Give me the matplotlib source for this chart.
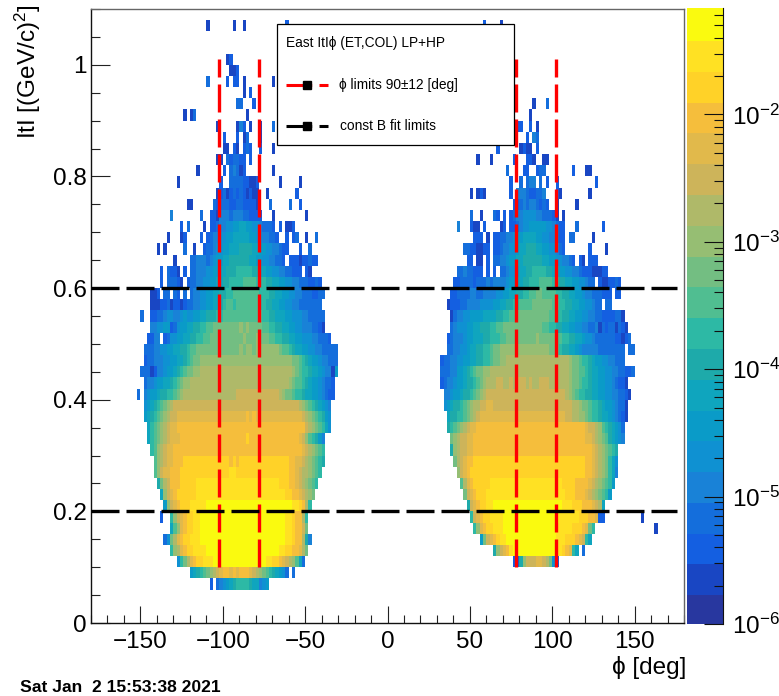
import numpy as np
import matplotlib
matplotlib.use("Agg")
import matplotlib.pyplot as plt
from matplotlib.colors import ListedColormap, LogNorm
from matplotlib.lines import Line2D
from matplotlib.patches import Rectangle
from matplotlib.ticker import MultipleLocator, LogLocator, FixedLocator, FixedFormatter, NullFormatter

plt.rcParams['font.family'] = ['Liberation Sans', 'DejaVu Sans']
plt.rcParams['mathtext.fontset'] = 'custom'
plt.rcParams['mathtext.rm'] = 'Liberation Sans'
plt.rcParams['mathtext.default'] = 'regular'

W, H = 779, 696

# palette bands, bottom (10^-6) to top
band_colors = ['#28379f', '#1946c3', '#145fe1', '#146edc', '#1982d7', '#0f91d2', '#0a9bc8', '#0fa5be',
               '#1eaaaa', '#2db9a5', '#50be91', '#73be82', '#96be73', '#afb969', '#cdb45a', '#e1b94b',
               '#f5be3c', '#ffd228', '#ffe123', '#fafa0f']

# each entry is one t bin, from 1.06-1.08 downwards to 0.06-0.08: "phi_bin:level-characters"
# a group with no colon carries on from the previous group
left_rows = [
    "35:1 43:1 46:1 59:2",
    "",
    "",
    "41:12",
    "42:112",
    "35:3 41:2 43:22 46:1 55:1",
    "46:1 48:2",
    "44:33 49:2",
    "28:1 30:13 47:1",
    "38:1 44:142 48:1 51:1 55:3",
    "40:2 44:2 46:13 51:1",
    "40:11 43:21 46:232 51:2 55:1",
    "38:11 41:32332 46:2 48:2",
    "32:1 40:2 42:343 45:12 55:1",
    "26:1 39:2 42:333322112 57:1 63:1",
    "38:1231232321211 53:1 62:2",
    "29:11 37:32333223322221 54:3 60:3 63:2",
    "24:4 33:3 36:221 39:444344433222 51:2 55:1 65:1",
    "27:2 29:3 34:1 36:22344556677665543332 57:2 59:112",
    "23:1 27:12 33:2 35:2344556677777665544332 59:2 61:23 65:1 68:3",
    "20:1 22:1 28:3 31:1 34:23345566777888877665544322 63:2 66:3",
    "25:1 30:33444345667788888877665544332.222122322",
    "21:2 23:3221 28:2 30:3344455667788899999887766554433222.21",
    "21:2.33321.2 30:3344556677889999aaaa999887766554433322 32",
    "18:112.33.32.3 30:3445566778899aaaaaaaa99988776655443332233",
    "18:11122312212334455667789aa9aaaaaaa9988776655443333333",
    "15:3 18:2233455445655667788899 aaaaaaaaaaaa 998877766555443 3333",
    "18:44556623566778899aabbbbbbbbcbcbbbbaa99887766554443321",
    "17:2244.235566778899aabbbbbbbbbbcbbbcbbbaa9988776655544333 2",
    "16:33344556 6778 89aabb bbbbbbbbbbbcbccbccccccc baa98 7766554433333",
    "16:23344455667 789abb cccccccccc cccccccccc cccccccc bba9 8766544333",
    "15:33312 4456 6789ab bcc dddddddddd dddddddddd dddddddd cba99 8776544 16",
    "16:34456 67789a bccd dddddddddd dddddddddd ddddddddd cbaa9 876654332",
    "14:3 16:456678 899abcd ddddddddddddddd eeeeeeeeeeeee dcbba 998776 654322",
    "16:56789 abcde eee eeeeeeeeee eeeeeeeeee eeeeeeeeee eeee dcba987654",
    "16:6789 abcdee fffffffffffffffffffff gfg ffffffffffffff edcba9865",
    "17:79ab cd effg gggggggggg gggggggggg gggggggggg gggggggg edcba975",
    "17:79 abcde fff gggggggggg gggggggggg hgggggggg ggggggg feca9864",
    "18:9a cdef fgg gggggggggg gggggggggg gggggggggg ggggggg fedcba9",
    "19:ac deff ggg hhhhhhhhhhhhhh ghgh hhhhhhhhhhhhhh ggffed cba98",
    "19:ac effg ggh hhhhhhhhhhhhhh iihh hhhhhhhhhhhhhh ggfed dcba9",
    "20:8b degg ghh hhh iiiiiiiiii iiiiiiiiii iiiii hhhgg fedcba9",
    "21:7c efgh hhh hhi iiiiiiiiii iiiiiiiiii iiiiii hhgg fedcb",
    "22:6c efgh hh iii ii jjjjjjjjjj jjjjjjjjjj jjjjjj iihg d9",
    "21:2 24:9cefghhii jjjjjjjjjj jjjjjjjjjj jjjjjj iihgg d9",
    "24:7acfghhii jjjjjjjjjj jjjjjjjjjj jjjjjj iihgg eb",
    "22:35 bdfghhiii jjjjjjjjjj jjjjjjjjjj jjjjjj iihgg d8 4",
    "24:9cdfghhiiii jjjjjjjjjj jjjjjjjjjj jj iihhgg fdb",
    "26:59bdfghhiii jjjjjjjjjj jjjjjj iihhg fedca73",
    "30:6789abcdef ggfgfgggf edcba987653 61:3",
    "36:2 38:3456789999877456",
]

right_rows = [
    "119:2 124:1",
    "",
    "",
    "",
    "",
    "",
    "",
    "134:1 138:3",
    "133:1",
    "129:22 133:2 135:1",
    "132:2 134:43",
    "123:2 130:1211 135:2",
    "117:1 121:1 128:2 132:221 137:11",
    "126:3 131:22 135:233 146:2 150:11",
    "127:2 130:3 132:344 136:3 138:2 141:2 153:2",
    "115:1 117:121 127:2 129:444322334 141:21 151:1",
    "128:22343443232 141:1 147:1",
    "115:3 118:1 122:32 125:2 127:2 128:34455554433321 143:1",
    "111:4 115:2 116:11 119:2 124:12 127:22345566666554322 147:3 155:2",
    "116:222 120:1 122:2233445667777665544322 145:33 152:1",
    "113:33221122 122:2234455677888776655432 151:2 156:1",
    "114:22 117:11 120:2 122:3344566778888887766554432 148:21 151:222",
    "111:33433222 120:2.2 124:33455677889999887766554 147:432 150:2211122",
    "110:22333323334344445667788999aaaa998877665543 3.21122 32",
    "109:2233334433444455667788 99aabbaaaa99887766544333222.22",
    "108:122233444455556677 8899aaaabbbbbbaa9988776655433.33",
    "109:13445566667777 8899aabbbbbbbbbbaa99887766554433 2222331",
    "109:345556677888 99aabbbbbbbbbbbbaa99887766554433 413233 1321",
    "108:23444566777889 99aabbbbbbbbbcbbbbbaa9988776554333333 22123",
    "108:33445567 7889 9abb cccc cccc cccc cccb ba98 8776 5444 4433 3333 33 163:33",
    "106:23344556 6778899 abbccd dddddddddddddddddd cbba998 7665544333",
    "106:333446678 9abbcc dddddddddd dddddddddd dddd cbbaa9 8776655443 3223",
    "106:23445667 889abcd ddeeddedeeededdeeeddddd dcbba 9987766554 3221",
    "107:445667 889a bcde eeeeeeeeee eeeeeeeeee ee edcba 998877665 544332 1",
    "107:56788 9ab cddee ff eeeeeeeeee eeeeeeeeee ee eedd cbba 99876 654331",
    "108:78899 abcdef ffffffffff ffffffffff fffff eeddcc ba9987 7654321",
    "108:89abc deff gggggggggg gggggggggg gggggggggg ggg feedc a987653",
    "109:bcde eff gggggggggg gggggggggg gggggggggg ggg gffe dcba 87654",
    "109:8cde eff gggggggggg gggggggggg gggggggggg ggggg gfed cba98",
    "110:bdef gg hhhhhhhhhh hhhhhhhhhh hhhhhhhhhh hhh hggf edcb975",
    "111:cef gh hhhhhhhhhh hhhhhhhhhh hhhhhhhhhh hhh hggf edc b974",
    "112:adf gh hhhh iiiiiiiiii iiiiiiiiii ii hhhhgggg fedcba96",
    "113:bef gh hh iiiiiiiiii iiiiiiiiii iiii hhhgg gfedcba96",
    "114:8ef ghh ii jjjjjjjjjj jjjjjjjjjj j iii hhh gggf ed7",
    "115:9efghhiiii jjjjjjjjjj jjjjjjj iiiiii hhh ggf 22 167:1",
    "116:9cfghhiii jjjjjjjjjj jjjjjj iiiii hhh gf b9 171:1",
    "118:6be fgh ii jjjjjjjjjj jjjjj iii hhh gfe 97",
    "122:8cefg i jjjjjjjjjj jjj ii hg f97 149:3",
    "128:228ceeeffedb52",
    "",
    "",
]

t_top_bin = 53
level_chars = "0123456789abcdefghij"
decade_per_band = 0.2416

n_phi, n_t = 180, 55
phi_edges = np.linspace(-180, 180, n_phi + 1)
t_edges = np.linspace(0.0, 1.1, n_t + 1)


def fill(z, rows):
    for i, row in enumerate(rows):
        col = None
        for tok in row.split():
            if ":" in tok:
                head, lev = tok.split(":")
                col = int(head)
            else:
                lev = tok
            for ch in lev:
                if ch != ".":
                    z[t_top_bin - i, col] = 10 ** (-6 + (level_chars.index(ch) + 0.5) * decade_per_band)
                col += 1


z = np.full((n_t, n_phi), np.nan)
fill(z, left_rows)
fill(z, right_rows)

fig = plt.figure(figsize=(W / 100, H / 100), dpi=100)


def fx(p):
    return p / W


def fy(p):
    return 1 - p / H


ax = fig.add_axes([fx(91), fy(623), fx(684) - fx(91), fy(9) - fy(623)])
cmap = ListedColormap(band_colors)
norm = LogNorm(vmin=1e-6, vmax=10 ** (-6 + 20 * decade_per_band))
mesh = ax.pcolormesh(phi_edges, t_edges, np.ma.masked_invalid(z), cmap=cmap, norm=norm, antialiased=False)

ax.set_xlim(-180, 180)
ax.set_ylim(0, 1.1)

# limits
phi_limits = [-102, -78, 78, 102]
t_limits = [0.2, 0.6]
t_span = [0.1, 1.01]
phi_span = [-180, 175.5]
pat = (0, (8.4, 2.1))
for p in phi_limits:
    ax.plot([p, p], t_span, color='#ff0000', lw=2.4, ls=pat, zorder=3)
for t in t_limits:
    ax.plot(phi_span, [t, t], color='black', lw=2.4, ls=pat, zorder=4)

# axes cosmetics
ax.xaxis.set_major_locator(MultipleLocator(50))
ax.xaxis.set_minor_locator(MultipleLocator(10))
ax.yaxis.set_major_locator(MultipleLocator(0.2))
ax.yaxis.set_minor_locator(MultipleLocator(0.05))
ax.tick_params(axis='x', which='major', direction='in', length=12.5, width=0.8, labelsize=17.5, pad=6, color='#222222')
ax.tick_params(axis='x', which='minor', direction='in', length=6, width=0.8, color='#222222')
ax.tick_params(axis='y', which='major', direction='in', length=13.5, width=0.8, labelsize=17.5, pad=3, color='#222222')
ax.tick_params(axis='y', which='minor', direction='in', length=6.5, width=0.8, color='#222222')
ax.set_yticks([0, 0.2, 0.4, 0.6, 0.8, 1.0], ['0', '0.2', '0.4', '0.6', '0.8', '1'])
for s in ['top', 'right']:
    ax.spines[s].set_color('#666666')
    ax.spines[s].set_linewidth(1.0)
for s in ['left', 'bottom']:
    ax.spines[s].set_color('#111111')
    ax.spines[s].set_linewidth(1.0)

fig.text(fx(686), fy(674), '\u03d5 [deg]', ha='right', va='baseline', fontsize=17.5)
fig.text(fx(43), fy(4), r'ItI [(GeV/c)$^{2}$]', rotation=90, ha='right', va='top', fontsize=17.5)
fig.text(fx(20.5), fy(692.5), 'Sat Jan  2 15:53:38 2021', fontweight='bold', fontsize=12.6, ha='left', va='baseline')

# colour bar
cax = fig.add_axes([fx(687.3), fy(624), fx(723.3) - fx(687.3), fy(8.3) - fy(624)])
cb = fig.colorbar(mesh, cax=cax)
cb.outline.set_visible(False)
cb.solids.set_edgecolor('face')
cax.spines['right'].set_visible(True)
cax.spines['right'].set_color('#111111')
cax.spines['right'].set_linewidth(0.8)
decades = [1e-6, 1e-5, 1e-4, 1e-3, 1e-2]
cax.yaxis.set_major_locator(FixedLocator(decades))
cax.yaxis.set_major_formatter(FixedFormatter(['$10^{-6}$', '$10^{-5}$', '$10^{-4}$', '$10^{-3}$', '$10^{-2}$']))
cax.yaxis.set_minor_locator(LogLocator(base=10, subs=np.arange(2, 10), numticks=20))
cax.yaxis.set_minor_formatter(NullFormatter())
cax.tick_params(axis='y', which='major', direction='in', length=13.5, width=0.8, labelsize=17.5, pad=6, color='#111111', right=True)
cax.tick_params(axis='y', which='minor', direction='in', length=6.5, width=0.8, color='#111111', right=True)

# legend box
box = Rectangle((fx(276.7), fy(145)), fx(514.3) - fx(276.7), fy(24) - fy(145), transform=fig.transFigure,
                facecolor='white', edgecolor='black', lw=0.9, zorder=10)
fig.add_artist(box)
fig.text(fx(286.5), fy(43), 'East ItI\u03d5 (ET,COL) LP+HP', fontsize=9.9, va='center', ha='left', zorder=11)
fig.text(fx(339), fy(84.7), '\u03d5 limits 90\u00b112 [deg]', fontsize=9.9, va='center', ha='left', zorder=11)
fig.text(fx(340), fy(126), 'const B fit limits', fontsize=9.9, va='center', ha='left', zorder=11)
for col, ypx in (('#ff0000', 84.7), ('black', 126)):
    fig.add_artist(Line2D([fx(286), fx(328)], [fy(ypx), fy(ypx)], transform=fig.transFigure, color=col, lw=2.2,
                          ls=(0, (8.4, 2.4)), zorder=11))
    fig.add_artist(Line2D([fx(307)], [fy(ypx)], transform=fig.transFigure, color='black', marker='s', ms=5.8, ls='none',
                          zorder=12))

fig.savefig('out.png', dpi=100)
